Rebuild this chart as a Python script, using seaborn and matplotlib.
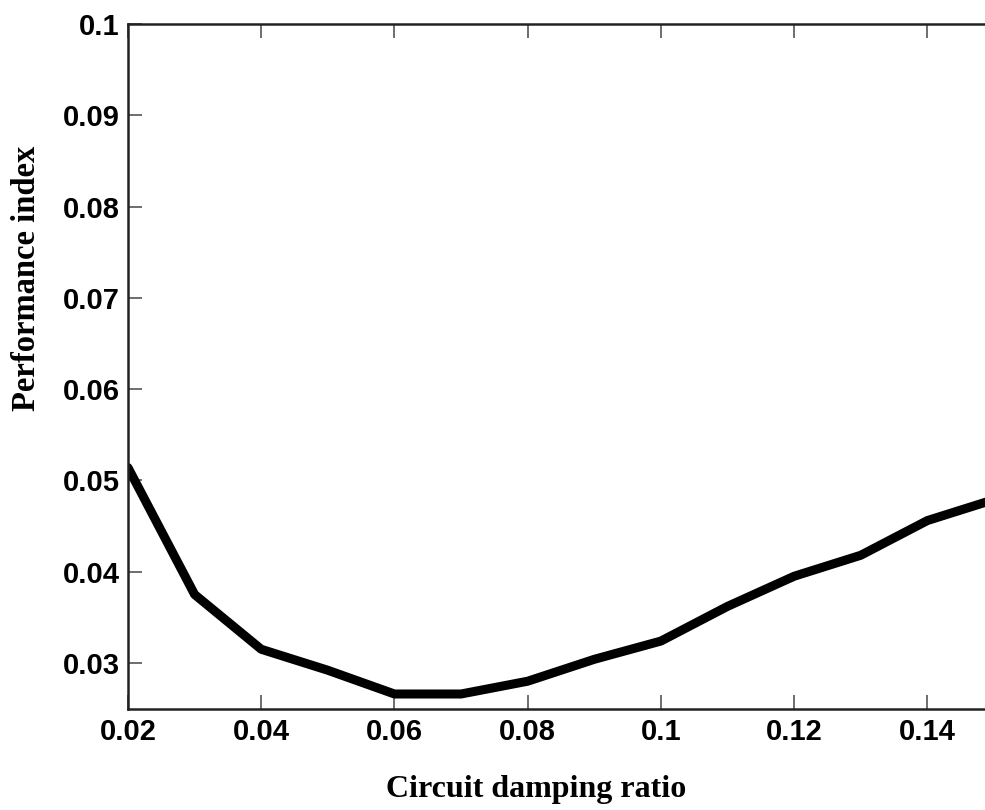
import matplotlib
matplotlib.use("Agg")
import matplotlib.pyplot as plt
import seaborn as sns
import pandas as pd

# Circuit damping ratio sweep and the resulting performance index
damping_ratio = [0.02, 0.03, 0.04, 0.05, 0.06, 0.07, 0.08, 0.09,
                 0.10, 0.11, 0.12, 0.13, 0.14, 0.15]
performance_index = [0.0514, 0.0375, 0.0315, 0.0292, 0.0266, 0.0266, 0.0280,
                     0.0304, 0.0324, 0.0362, 0.0395, 0.0418, 0.0456, 0.0479]
x_ticks = [0.02, 0.04, 0.06, 0.08, 0.10, 0.12, 0.14]
x_tick_labels = ["0.02", "0.04", "0.06", "0.08", "0.1", "0.12", "0.14"]
y_ticks = [0.03, 0.04, 0.05, 0.06, 0.07, 0.08, 0.09, 0.10]
y_tick_labels = ["0.03", "0.04", "0.05", "0.06", "0.07", "0.08", "0.09", "0.1"]

sns.set_theme(style="white")

df = pd.DataFrame({"ratio": damping_ratio, "index": performance_index})

fig = plt.figure(figsize=(9.85, 8.10), dpi=100)
ax = fig.add_axes([128 / 985, 1 - 708.6 / 810, (994 - 128) / 985, (708.6 - 24) / 810])

sns.lineplot(data=df, x="ratio", y="index", ax=ax, color="black",
             linewidth=6.5, solid_joinstyle="round")

ax.set_xlim(0.02, 0.15)
ax.set_ylim(0.025, 0.10)
ax.set_xticks(x_ticks)
ax.set_xticklabels(x_tick_labels)
ax.set_yticks(y_ticks)
ax.set_yticklabels(y_tick_labels)

for lab in ax.get_xticklabels() + ax.get_yticklabels():
    lab.set_fontfamily("Liberation Sans")
    lab.set_fontweight("bold")
    lab.set_fontsize(21)
    lab.set_color("black")

ax.tick_params(axis="both", direction="in", length=10, width=1.2,
               color="#555555", top=True, right=False, bottom=True, left=True)
ax.tick_params(axis="x", pad=7)
ax.tick_params(axis="y", pad=6)

for side in ["left", "bottom", "top", "right"]:
    ax.spines[side].set_visible(True)
    ax.spines[side].set_color("#222222")
    ax.spines[side].set_linewidth(1.8)

ax.set_xlabel("Circuit damping ratio", fontfamily="Liberation Serif",
              fontweight="bold", fontsize=23, color="black")
ax.set_ylabel("Performance index", fontfamily="Liberation Serif",
              fontweight="bold", fontsize=23.5, color="black")
ax.xaxis.set_label_coords(0.471, -0.097)
ax.yaxis.set_label_coords(-0.099, 0.629)

fig.savefig("out.png", dpi=100)
